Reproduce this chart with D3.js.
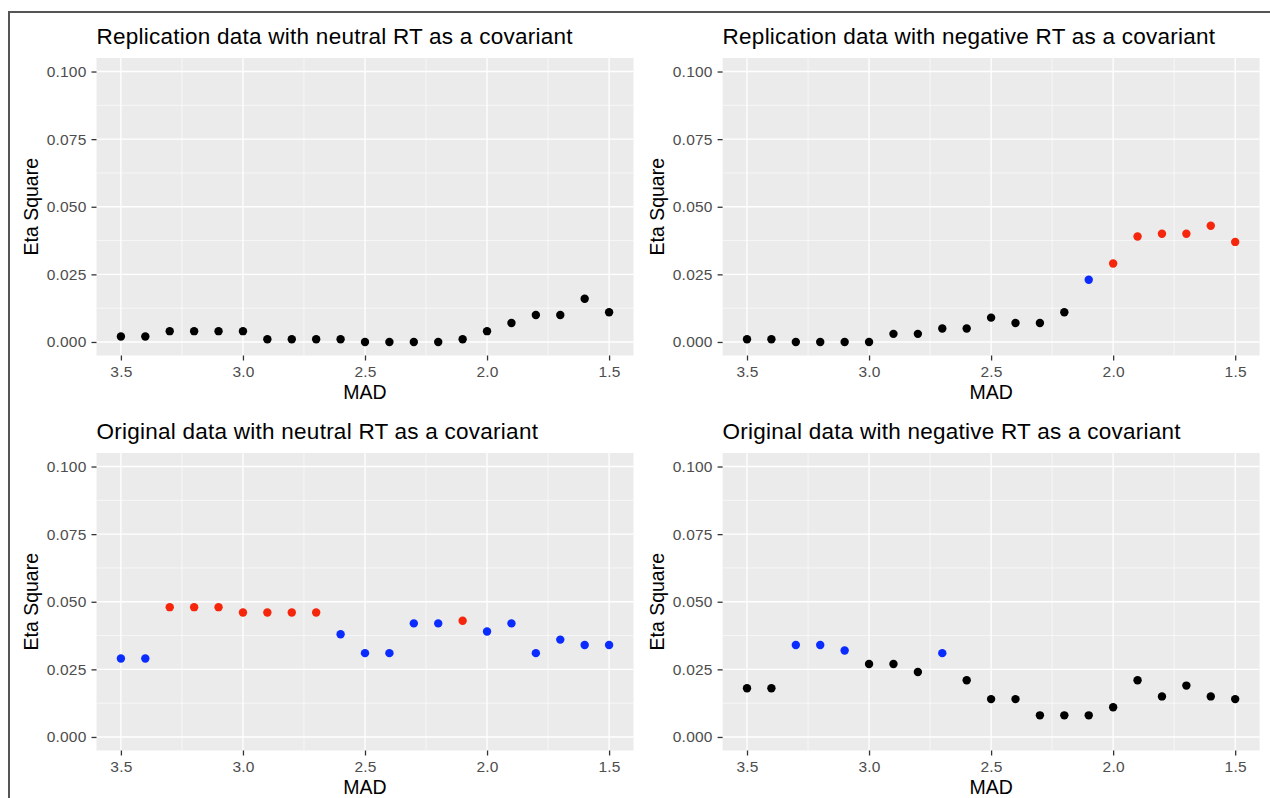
<!DOCTYPE html>
<html>
<head>
<meta charset="utf-8">
<script src="https://cdn.jsdelivr.net/npm/d3@7"></script>
<style>
  body { margin: 0; background: #fff; }
  svg { display: block; font-family: "Liberation Sans", Arial, sans-serif; }
</style>
</head>
<body>
<svg id="chart" width="1270" height="798"></svg>
<script>
// MAD cutoffs, same for every panel
var mad = [3.5, 3.4, 3.3, 3.2, 3.1, 3.0, 2.9, 2.8, 2.7, 2.6, 2.5, 2.4, 2.3, 2.2, 2.1, 2.0, 1.9, 1.8, 1.7, 1.6, 1.5];

var titles = [
    'Replication data with neutral RT as a covariant',
    'Replication data with negative RT as a covariant',
    'Original data with neutral RT as a covariant',
    'Original data with negative RT as a covariant'
];

// eta square values
var repNeutral = [0.002, 0.002, 0.004, 0.004, 0.004, 0.004, 0.001, 0.001, 0.001, 0.001, 0, 0, 0, 0, 0.001, 0.004, 0.007, 0.010, 0.010, 0.016, 0.011];
var repNegative = [0.001, 0.001, 0, 0, 0, 0, 0.003, 0.003, 0.005, 0.005, 0.009, 0.007, 0.007, 0.011, 0.023, 0.029, 0.039, 0.040, 0.040, 0.043, 0.037];
var origNeutral = [0.029, 0.029, 0.048, 0.048, 0.048, 0.046, 0.046, 0.046, 0.046, 0.038, 0.031, 0.031, 0.042, 0.042, 0.043, 0.039, 0.042, 0.031, 0.036, 0.034, 0.034];
var origNegative = [0.018, 0.018, 0.034, 0.034, 0.032, 0.027, 0.027, 0.024, 0.031, 0.021, 0.014, 0.014, 0.008, 0.008, 0.008, 0.011, 0.021, 0.015, 0.019, 0.015, 0.014];

// point colour group: n = black, b = blue, r = red
var repNeutralSig = ['n','n','n','n','n','n','n','n','n','n','n','n','n','n','n','n','n','n','n','n','n'];
var repNegativeSig = ['n','n','n','n','n','n','n','n','n','n','n','n','n','n','b','r','r','r','r','r','r'];
var origNeutralSig = ['b','b','r','r','r','r','r','r','r','b','b','b','b','b','r','b','b','b','b','b','b'];
var origNegativeSig = ['n','n','b','b','b','n','n','n','b','n','n','n','n','n','n','n','n','n','n','n','n'];

var xTicks = [3.5, 3.0, 2.5, 2.0, 1.5];
var xMinor = [3.25, 2.75, 2.25, 1.75];
var yTicks = [0, 0.025, 0.05, 0.075, 0.1];
var yMinor = [0.0125, 0.0375, 0.0625, 0.0875];

var sigColor = { n: '#000000', b: '#0a2cff', r: '#f5260c' };

var panels = [
    { values: repNeutral, sig: repNeutralSig },
    { values: repNegative, sig: repNegativeSig },
    { values: origNeutral, sig: origNeutralSig },
    { values: origNegative, sig: origNegativeSig }
];

var svg = d3.select('#chart');

// outer frame (only top and left show in the picture)
svg.append('path')
    .attr('d', 'M9,798 V12 H1270')
    .attr('fill', 'none')
    .attr('stroke', '#555')
    .attr('stroke-width', 2);

var colLeft = [96.5, 722.6];
var plotW = 537;
var rowTop = [58, 453];
var plotH = 297.5;

panels.forEach(function(p, i) {
    var left = colLeft[i % 2];
    var top = rowTop[Math.floor(i / 2)];

    var x = d3.scaleLinear().domain([3.6, 1.4]).range([0, plotW]);
    var y = d3.scaleLinear().domain([-0.005, 0.105]).range([plotH, 0]);

    var g = svg.append('g').attr('transform', 'translate(' + left + ',' + top + ')');

    g.append('rect')
        .attr('width', plotW)
        .attr('height', plotH)
        .attr('fill', '#ebebeb');

    // minor grid
    g.selectAll('.xmin').data(xMinor).enter().append('line')
        .attr('x1', function(d) { return x(d); })
        .attr('x2', function(d) { return x(d); })
        .attr('y1', 0).attr('y2', plotH)
        .attr('stroke', '#fff').attr('stroke-width', 0.6);
    g.selectAll('.ymin').data(yMinor).enter().append('line')
        .attr('y1', function(d) { return y(d); })
        .attr('y2', function(d) { return y(d); })
        .attr('x1', 0).attr('x2', plotW)
        .attr('stroke', '#fff').attr('stroke-width', 0.6);

    // major grid
    g.selectAll('.xmaj').data(xTicks).enter().append('line')
        .attr('x1', function(d) { return x(d); })
        .attr('x2', function(d) { return x(d); })
        .attr('y1', 0).attr('y2', plotH)
        .attr('stroke', '#fff').attr('stroke-width', 1.3);
    g.selectAll('.ymaj').data(yTicks).enter().append('line')
        .attr('y1', function(d) { return y(d); })
        .attr('y2', function(d) { return y(d); })
        .attr('x1', 0).attr('x2', plotW)
        .attr('stroke', '#fff').attr('stroke-width', 1.3);

    // axes
    var xAxis = d3.axisBottom(x).tickValues(xTicks).tickFormat(d3.format('.1f')).tickSize(5).tickPadding(5);
    var yAxis = d3.axisLeft(y).tickValues(yTicks).tickFormat(d3.format('.3f')).tickSize(5).tickPadding(5);

    var ax = g.append('g').attr('transform', 'translate(0,' + plotH + ')').call(xAxis);
    var ay = g.append('g').call(yAxis);
    [ax, ay].forEach(function(a) {
        a.select('.domain').remove();
        a.selectAll('.tick line').attr('stroke', '#333').attr('stroke-width', 1.3);
        a.selectAll('.tick text')
            .attr('fill', '#4d4d4d')
            .style('font-size', '15.5px')
            .style('letter-spacing', '0.2px')
            .style('font-family', '"Liberation Sans", Arial, sans-serif');
    });

    // points
    g.selectAll('circle')
        .data(mad)
        .enter()
        .append('circle')
        .attr('cx', function(d) { return x(d); })
        .attr('cy', function(d, j) { return y(p.values[j]); })
        .attr('r', 4.2)
        .attr('fill', function(d, j) { return sigColor[p.sig[j]]; });

    // titles
    g.append('text')
        .attr('x', 0)
        .attr('y', -14)
        .style('font-size', '22.5px')
        .style('letter-spacing', '0.25px')
        .attr('fill', '#000')
        .text(titles[i]);

    g.append('text')
        .attr('x', plotW / 2)
        .attr('y', plotH + 43)
        .attr('text-anchor', 'middle')
        .style('font-size', '19.5px')
        .attr('fill', '#000')
        .text('MAD');

    g.append('text')
        .attr('transform', 'translate(' + (-58.5) + ',' + (plotH / 2) + ') rotate(-90)')
        .attr('text-anchor', 'middle')
        .style('font-size', '19.5px')
        .attr('fill', '#000')
        .text('Eta Square');
});
</script>
</body>
</html>
